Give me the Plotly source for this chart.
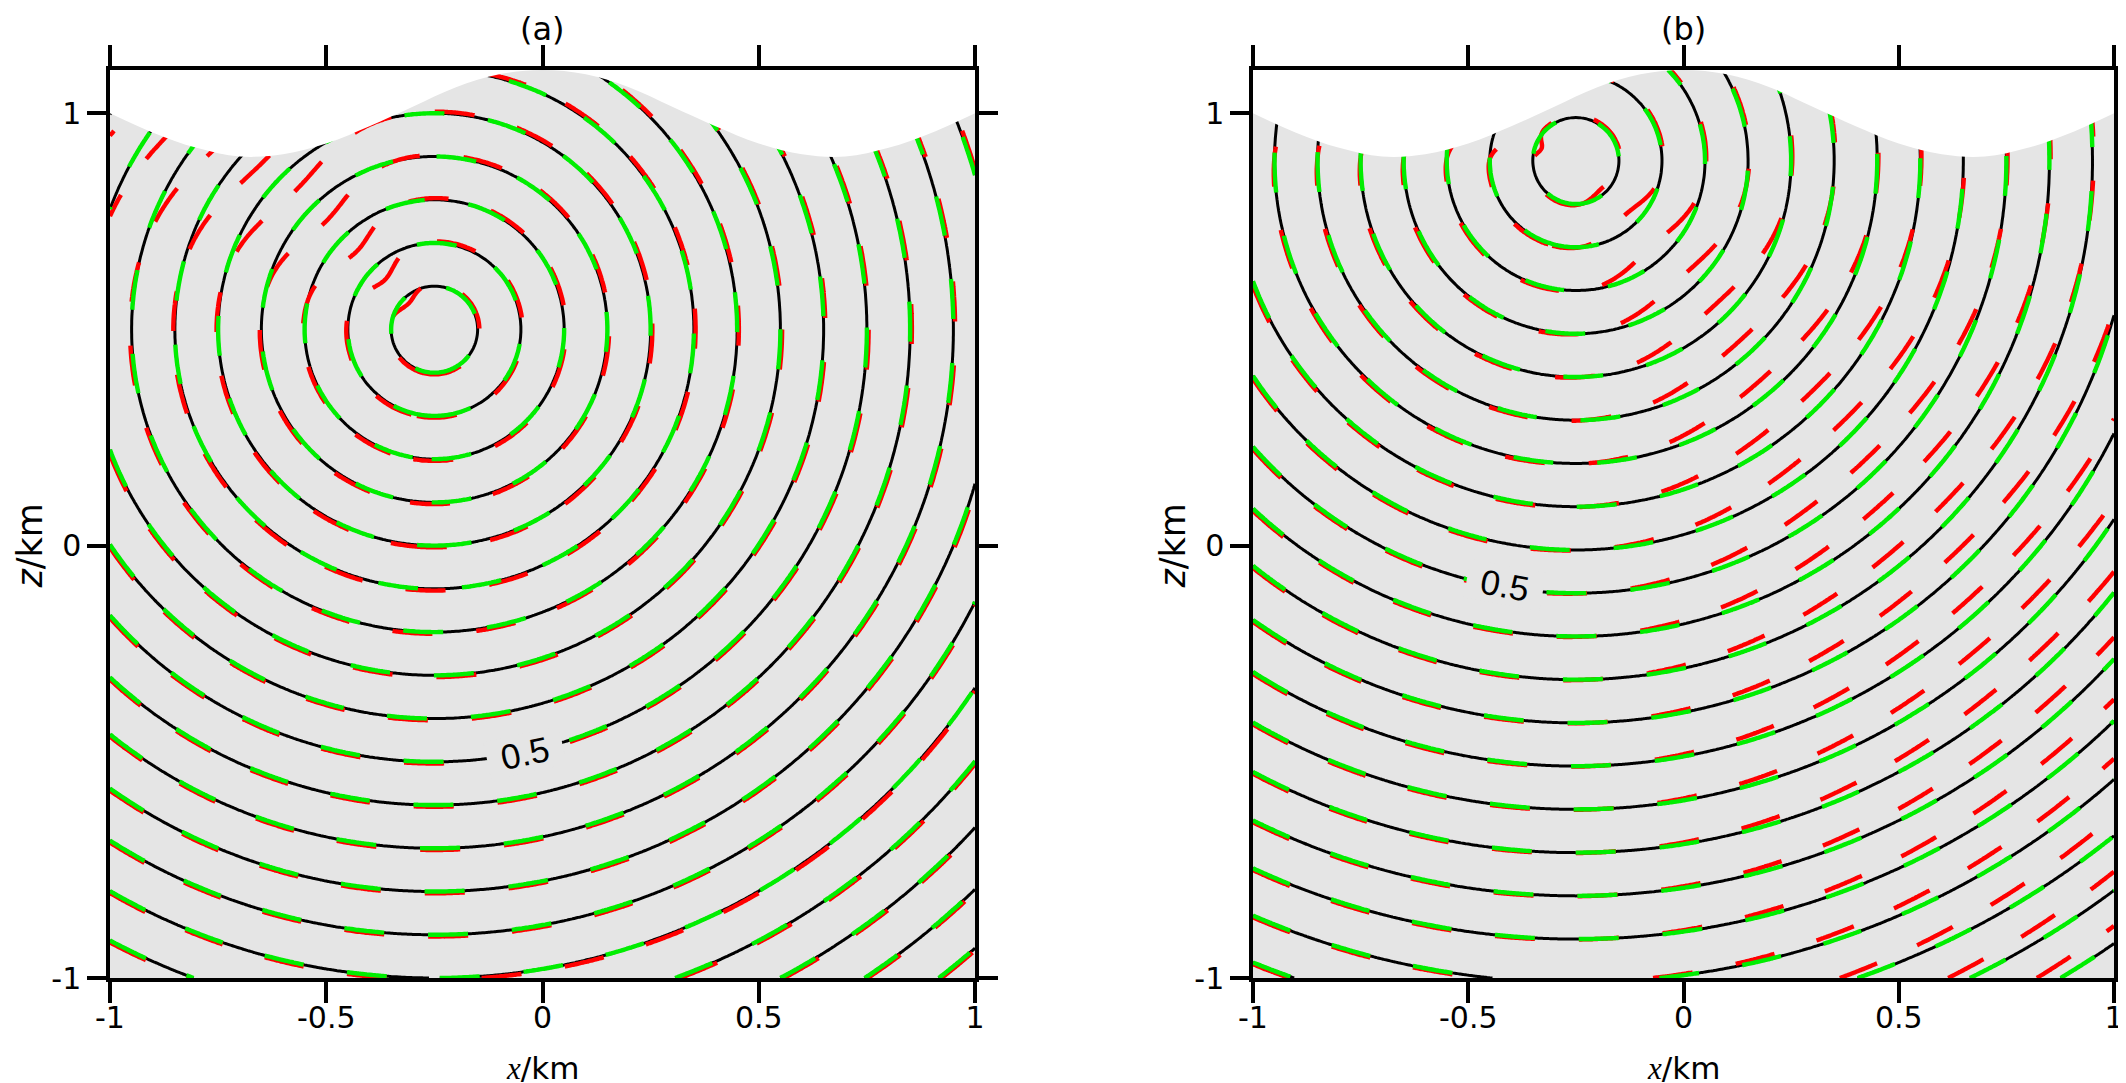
import numpy as np
import plotly.graph_objects as go

# free-surface topography (km)
SURF_X = [-1.0, -0.9, -0.8, -0.7, -0.6, -0.5, -0.4, -0.3, -0.2, -0.1, 0.0,
          0.1, 0.2, 0.3, 0.4, 0.5, 0.6, 0.7, 0.8, 0.9, 1.0]
SURF_Z = [1.00, 0.955, 0.92, 0.90, 0.905, 0.93, 0.97, 1.015, 1.06, 1.09, 1.10,
          1.09, 1.06, 1.015, 0.97, 0.93, 0.905, 0.90, 0.92, 0.955, 1.00]

VELOCITY = 2.0          # km/s
LEVELS = dict(start=0.05, end=1.25, size=0.05)   # traveltime contours (s)

SOURCES = {'a': (-0.25, 0.50), 'b': (-0.25, 0.89)}

# misfit of the red (approximate) solution: centre angle (deg), width (deg), delay (s)
RED_SECTORS = {
    'a': [(135, 20, 0.025)],
    'b': [(-48, 26, 0.020), (160, 12, 0.025)],
}
RED_RAMP = 0.12         # km, misfit fades in away from the source
RED_OFFSET = -0.002

LABEL_POS = {'a': (-0.04, -0.48, -12), 'b': (-0.415, -0.09, 10)}
LABEL_TEXT = '0.5'

X_TICKS = [-1, -0.5, 0, 0.5, 1]
X_TICKTEXT = ['-1', '-0.5', '0', '0.5', '1']
Z_TICKS = [-1, 0, 1]
Z_TICKTEXT = ['-1', '0', '1']

GRID_X = np.linspace(-1.0, 1.0, 321)
GRID_Z = np.linspace(-1.0, 1.1, 337)

BG = '#e5e5e5'
FONT = 'DejaVu Sans, Verdana, sans-serif'
LABEL_FONT = 'Liberation Sans, Arial, sans-serif'
DASH = '40px,44px'

W, H = 2126, 1083
X_DOMAINS = {'a': [102 / W, 967 / W], 'b': [1245 / W, 2106 / W]}
Y_DOMAIN = [(H - 970) / H, (H - 62) / H]

XT = "<span style='font-family:Liberation Serif'><i>x</i></span>/km"
ZT = "<i>z</i>/km"


def traveltime(src, sectors=(), offset=0.0):
    X, Z = np.meshgrid(GRID_X, GRID_Z)
    dx, dz = X - src[0], Z - src[1]
    r = np.hypot(dx, dz)
    t = r / VELOCITY + offset
    ang = np.degrees(np.arctan2(dz, dx))
    ramp = 1 - np.exp(-(r / RED_RAMP) ** 2)
    for c, w, d in sectors:
        da = (ang - c + 180) % 360 - 180
        t = t + d * np.exp(-(da / w) ** 2) * ramp
    return np.round(t, 4)


def contour(field, color, width, dash, xa, ya):
    return go.Contour(
        x=GRID_X, y=GRID_Z, z=field,
        contours=dict(coloring='none', **LEVELS),
        line=dict(color=color, width=width, dash=dash, smoothing=1),
        showscale=False, hoverinfo='skip', xaxis=xa, yaxis=ya,
    )


fig = go.Figure()
panels = [('a', 'x', 'y'), ('b', 'x2', 'y2')]
for key, xa, ya in panels:
    src = SOURCES[key]
    fig.add_trace(contour(traveltime(src), 'black', 3.0, 'solid', xa, ya))
    fig.add_trace(contour(traveltime(src, RED_SECTORS[key], RED_OFFSET),
                          '#ff0000', 4.4, DASH, xa, ya))
    fig.add_trace(contour(traveltime(src), '#00ee00', 4.4, DASH, xa, ya))

    # blank out everything above the free surface
    fig.add_trace(go.Scatter(x=SURF_X, y=[1.3] * len(SURF_X), mode='lines',
                             line=dict(width=0), hoverinfo='skip',
                             showlegend=False, xaxis=xa, yaxis=ya))
    fig.add_trace(go.Scatter(x=SURF_X, y=SURF_Z, mode='lines',
                             line=dict(width=0, shape='spline'),
                             fill='tonexty', fillcolor='white',
                             hoverinfo='skip', showlegend=False,
                             xaxis=xa, yaxis=ya))

    lx, lz, ang = LABEL_POS[key]
    fig.add_annotation(x=lx, y=lz, xref=xa, yref=ya, text=LABEL_TEXT,
                       showarrow=False, textangle=ang, bgcolor=BG,
                       width=74, height=36,
                       font=dict(family=LABEL_FONT, size=35, color='black'))
    fig.add_annotation(x=0, y=0.981, xref=xa, yref='paper', text=f'({key})',
                       showarrow=False, yanchor='middle',
                       font=dict(family=FONT, size=32, color='black'))
    # axis titles as annotations so they sit where the reference has them
    fig.add_annotation(x=0, y=(H - 1060) / H, xref=xa, yref='paper', text=XT,
                       showarrow=False, yanchor='middle',
                       font=dict(family=FONT, size=31, color='black'))
    fig.add_annotation(x=X_DOMAINS[key][0] - 80 / W, y=0, xref='paper', yref=ya,
                       text=ZT, textangle=-90, showarrow=False,
                       xanchor='center', yanchor='middle',
                       font=dict(family=FONT, size=35, color='black'))

axis_common = dict(
    showline=True, linecolor='black', linewidth=3.5, mirror='ticks',
    ticks='outside', tickwidth=3.5, tickcolor='black',
    showgrid=False, zeroline=False, automargin=False,
    tickfont=dict(family=FONT, size=30, color='black'),
)
xaxis_common = dict(range=[-1, 1], tickvals=X_TICKS, ticktext=X_TICKTEXT,
                    ticklen=21, ticklabelstandoff=-11, **axis_common)
yaxis_common = dict(range=[-1, 1.1], tickvals=Z_TICKS, ticktext=Z_TICKTEXT,
                    ticklen=19, **axis_common)

fig.update_layout(
    width=W, height=H,
    margin=dict(l=0, r=0, t=0, b=0),
    paper_bgcolor='white', plot_bgcolor=BG,
    showlegend=False,
    xaxis=dict(domain=X_DOMAINS['a'], anchor='y', **xaxis_common),
    yaxis=dict(domain=Y_DOMAIN, anchor='x', **yaxis_common),
    xaxis2=dict(domain=X_DOMAINS['b'], anchor='y2', **xaxis_common),
    yaxis2=dict(domain=Y_DOMAIN, anchor='x2', **yaxis_common),
)

fig.write_html("out.html")
